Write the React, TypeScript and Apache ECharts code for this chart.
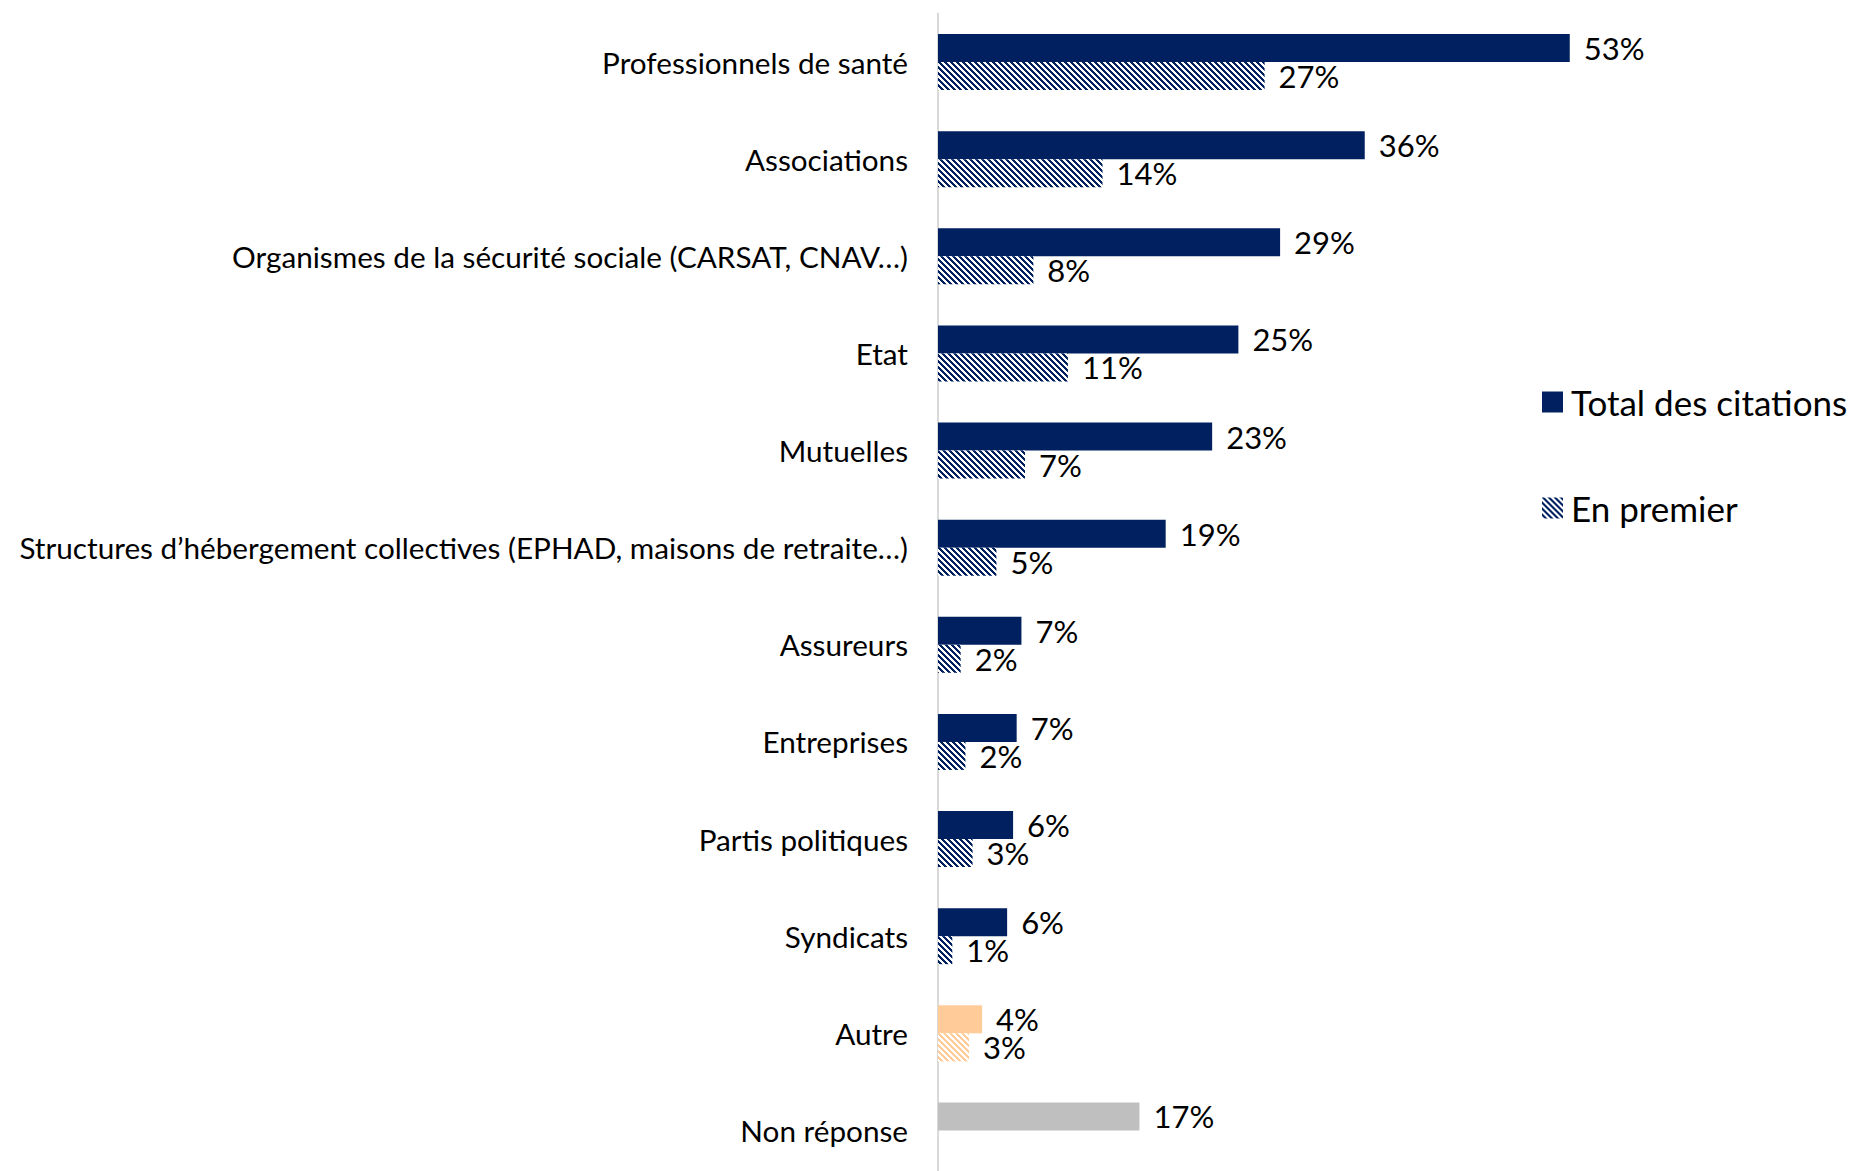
import React, { useEffect, useRef } from "react";
import * as echarts from "echarts";

const categories = [
  "Professionnels de santé",
  "Associations",
  "Organismes de la sécurité sociale (CARSAT, CNAV…)",
  "Etat",
  "Mutuelles",
  "Structures d’hébergement collectives (EPHAD, maisons de retraite…)",
  "Assureurs",
  "Entreprises",
  "Partis politiques",
  "Syndicats",
  "Autre",
  "Non réponse",
];
const seriesNames = ["Total des citations", "En premier"];
const totalValues = [53.0, 35.8, 28.7, 25.2, 23.0, 19.1, 7.0, 6.6, 6.3, 5.8, 3.7, 16.9];
const firstValues: (number | null)[] = [27.4, 13.8, 8.0, 10.9, 7.3, 4.9, 1.9, 2.3, 2.9, 1.2, 2.6, null];

const NAVY = "#002060";
const PEACH = "#FFCC99";
const GRAY = "#BFBFBF";
const FONT = "Lato";

function makeHatch(color: string) {
  const c = document.createElement("canvas");
  c.width = 6;
  c.height = 6;
  const ctx = c.getContext("2d")!;
  ctx.fillStyle = "#ffffff";
  ctx.fillRect(0, 0, 6, 6);
  ctx.fillStyle = color;
  for (let y = 0; y < 6; y++) {
    for (let x = 0; x < 6; x++) {
      if ((((x - y) % 6) + 6) % 6 < 3) ctx.fillRect(x, y, 1, 1);
    }
  }
  return { image: c, repeat: "repeat" as const };
}

export default function App() {
  const ref = useRef<HTMLDivElement>(null);
  useEffect(() => {
    if (!ref.current) return;
    const chart = echarts.init(ref.current, undefined, { renderer: "svg" });
    const navyHatch = makeHatch(NAVY);
    const peachHatch = makeHatch(PEACH);
    const totalColor = (name: string) =>
      name === "Autre" ? PEACH : name === "Non réponse" ? GRAY : NAVY;
    const labelStyle = {
      show: true,
      position: "right" as const,
      distance: 14,
      fontSize: 31,
      fontFamily: FONT,
      color: "#000",
      formatter: (p: any) => (p.value == null ? "" : Math.round(p.value) + "%"),
    };
    chart.setOption({
      animation: false,
      backgroundColor: "#ffffff",
      grid: { left: 938, top: 13.5, width: 715.2, height: 1165.5 },
      xAxis: {
        type: "value",
        min: 0,
        max: 60,
        show: false,
        splitLine: { show: false },
      },
      yAxis: {
        type: "category",
        data: categories,
        inverse: true,
        axisLine: { show: true, lineStyle: { color: "#D9D9D9", width: 2 } },
        axisTick: { show: false },
        axisLabel: { fontSize: 29.7, fontFamily: FONT, color: "#000", margin: 30 },
      },
      legend: {
        orient: "vertical",
        left: 1542,
        top: 382,
        padding: 0,
        itemWidth: 21,
        itemHeight: 21,
        itemGap: 66,
        icon: "rect",
        data: seriesNames,
        textStyle: { fontSize: 35, lineHeight: 40, fontFamily: FONT, color: "#000", padding: [0, 0, 0, 3] },
      },
      series: [
        {
          name: seriesNames[0],
          type: "bar",
          barWidth: 28,
          barGap: "0%",
          itemStyle: { color: NAVY },
          label: labelStyle,
          data: totalValues.map((v, i) => ({ value: v, itemStyle: { color: totalColor(categories[i]) } })),
        },
        {
          name: seriesNames[1],
          type: "bar",
          barWidth: 28,
          barGap: "0%",
          itemStyle: { color: navyHatch },
          label: labelStyle,
          data: firstValues.map((v, i) => ({
            value: v,
            itemStyle: { color: categories[i] === "Autre" ? peachHatch : navyHatch },
          })),
        },
      ],
    });
    return () => chart.dispose();
  }, []);
  return (
    <div
      style={{ position: "absolute", left: 0, top: 0, width: 1852, height: 1171, overflow: "hidden", background: "#fff" }}
    >
      <div ref={ref} style={{ width: 1852, height: 1200 }} />
    </div>
  );
}
